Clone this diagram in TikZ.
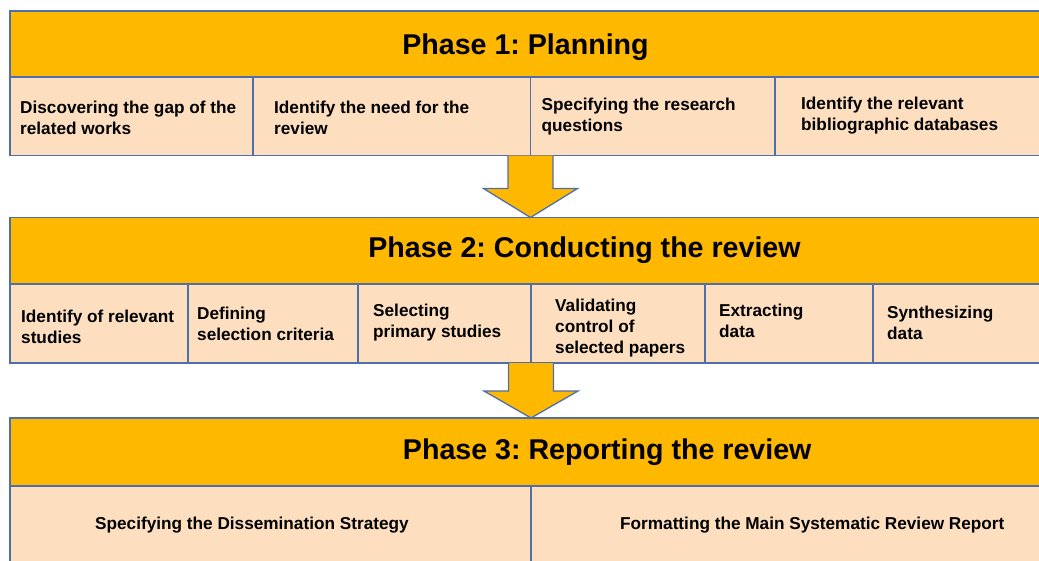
\documentclass[tikz,border=0pt]{standalone}
\usepackage{fontspec}
\setmainfont{Liberation Sans}
\usetikzlibrary{calc,positioning}
\frenchspacing

\definecolor{phaseamber}{HTML}{FFB800}
\definecolor{cellpeach}{HTML}{FDDFC0}
\definecolor{boxedge}{HTML}{4F6FAA}

\tikzset{
  phasebox/.style={draw=boxedge, fill=phaseamber, line width=1.3pt, anchor=north west, inner sep=0pt, outer sep=0pt},
  phasetitle/.style={font=\fontsize{28.6}{32}\selectfont\bfseries, anchor=base, inner sep=0pt},
  cellbox/.style={draw=boxedge, fill=cellpeach, line width=1.3pt, anchor=north west, inner sep=0pt, outer sep=0pt},
  celltext/.style={font=\fontsize{17.2}{21}\selectfont\bfseries, align=left, anchor=west, inner sep=0pt},
  blockarrow/.style={draw=boxedge, fill=phaseamber, line width=1.3pt, line join=miter},
}

\begin{document}
\begin{tikzpicture}[x=1pt, y=-1pt]
    % --- page frame (the last row runs off the bottom edge) ---
    \useasboundingbox (0,0) rectangle (1039,560);
    \clip (0,0) rectangle (1039,560);

    % --- Phase 1 ---
    \node[phasebox, minimum width=1035pt, minimum height=66pt] (plan) at (10,11) {};
    \node[phasetitle] (plan-title) at (525.5,54) {Phase 1: Planning};
    \foreach \name/\xa/\xb/\pad/\dy/\txt in {
        plan-a/10/253/10/2/{Discovering the gap of the\\related works},
        plan-b/253/530.5/21/2/{Identify the need for the\\review},
        plan-c/530.5/775/11/0/{Specifying the research\\questions},
        plan-d/775/1045/26/-1/{Identify the relevant\\bibliographic databases}}{
        \node[cellbox, minimum width={(\xb-\xa)*1pt}, minimum height=78.5pt] (\name) at (\xa,77) {};
        \node[celltext] (\name-txt) at ([xshift=\pad, yshift=-\dy]\name.west) {\txt};
    }

    % --- Phase 2 ---
    \node[phasebox, minimum width=1035pt, minimum height=66.5pt] (cond) at (10,217.5) {};
    \node[phasetitle] (cond-title) at (584.5,257) {Phase 2: Conducting the review};
    \foreach \name/\xa/\xb/\pad/\dy/\txt in {
        cond-a/10/188/11/3/{Identify of relevant\\studies},
        cond-b/188/358/9/0/{Defining\\selection criteria},
        cond-c/358/531/15/-1/{Selecting\\primary studies},
        cond-d/531/705/24/5/{Validating\\control of\\selected papers},
        cond-e/705/873/14/-3/{Extracting\\data},
        cond-f/873/1045/14/-1/{Synthesizing\\data}}{
        \node[cellbox, minimum width={(\xb-\xa)*1pt}, minimum height=79pt] (\name) at (\xa,284) {};
        \node[celltext] (\name-txt) at ([xshift=\pad, yshift=-\dy]\name.west) {\txt};
    }

    % --- Phase 3 ---
    \node[phasebox, minimum width=1035pt, minimum height=68pt] (report) at (10,418) {};
    \node[phasetitle] (report-title) at (607.2,459.5) {Phase 3: Reporting the review};
    \foreach \name/\xa/\xb/\pad/\dy/\txt in {
        report-a/10/531/85/1/{Specifying the Dissemination Strategy},
        report-b/531/1045/89/1/{Formatting the Main Systematic Review Report}}{
        \node[cellbox, minimum width={(\xb-\xa)*1pt}, minimum height=76pt] (\name) at (\xa,486) {};
        \node[celltext] (\name-txt) at ([xshift=\pad, yshift=-\dy]\name.west) {\txt};
    }

    % --- block arrows between the phases ---
    \coordinate (arr1-top) at (plan-b.south east);
    \coordinate (arr1-tip) at (plan-b.south east |- cond.north);
    \draw[blockarrow] ($(arr1-top)+(-22.5,0)$) -- ($(arr1-tip)+(-22.5,-29)$) -- ($(arr1-tip)+(-47,-29)$)
        -- (arr1-tip) -- ($(arr1-tip)+(47,-29)$) -- ($(arr1-tip)+(22.5,-29)$) -- ($(arr1-top)+(22.5,0)$);

    \coordinate (arr2-top) at (cond-c.south east);
    \coordinate (arr2-tip) at (cond-c.south east |- report.north);
    \draw[blockarrow] ($(arr2-top)+(-22.5,0)$) -- ($(arr2-tip)+(-22.5,-27)$) -- ($(arr2-tip)+(-47,-27)$)
        -- (arr2-tip) -- ($(arr2-tip)+(47,-27)$) -- ($(arr2-tip)+(22.5,-27)$) -- ($(arr2-top)+(22.5,0)$);

\end{tikzpicture}
\end{document}
